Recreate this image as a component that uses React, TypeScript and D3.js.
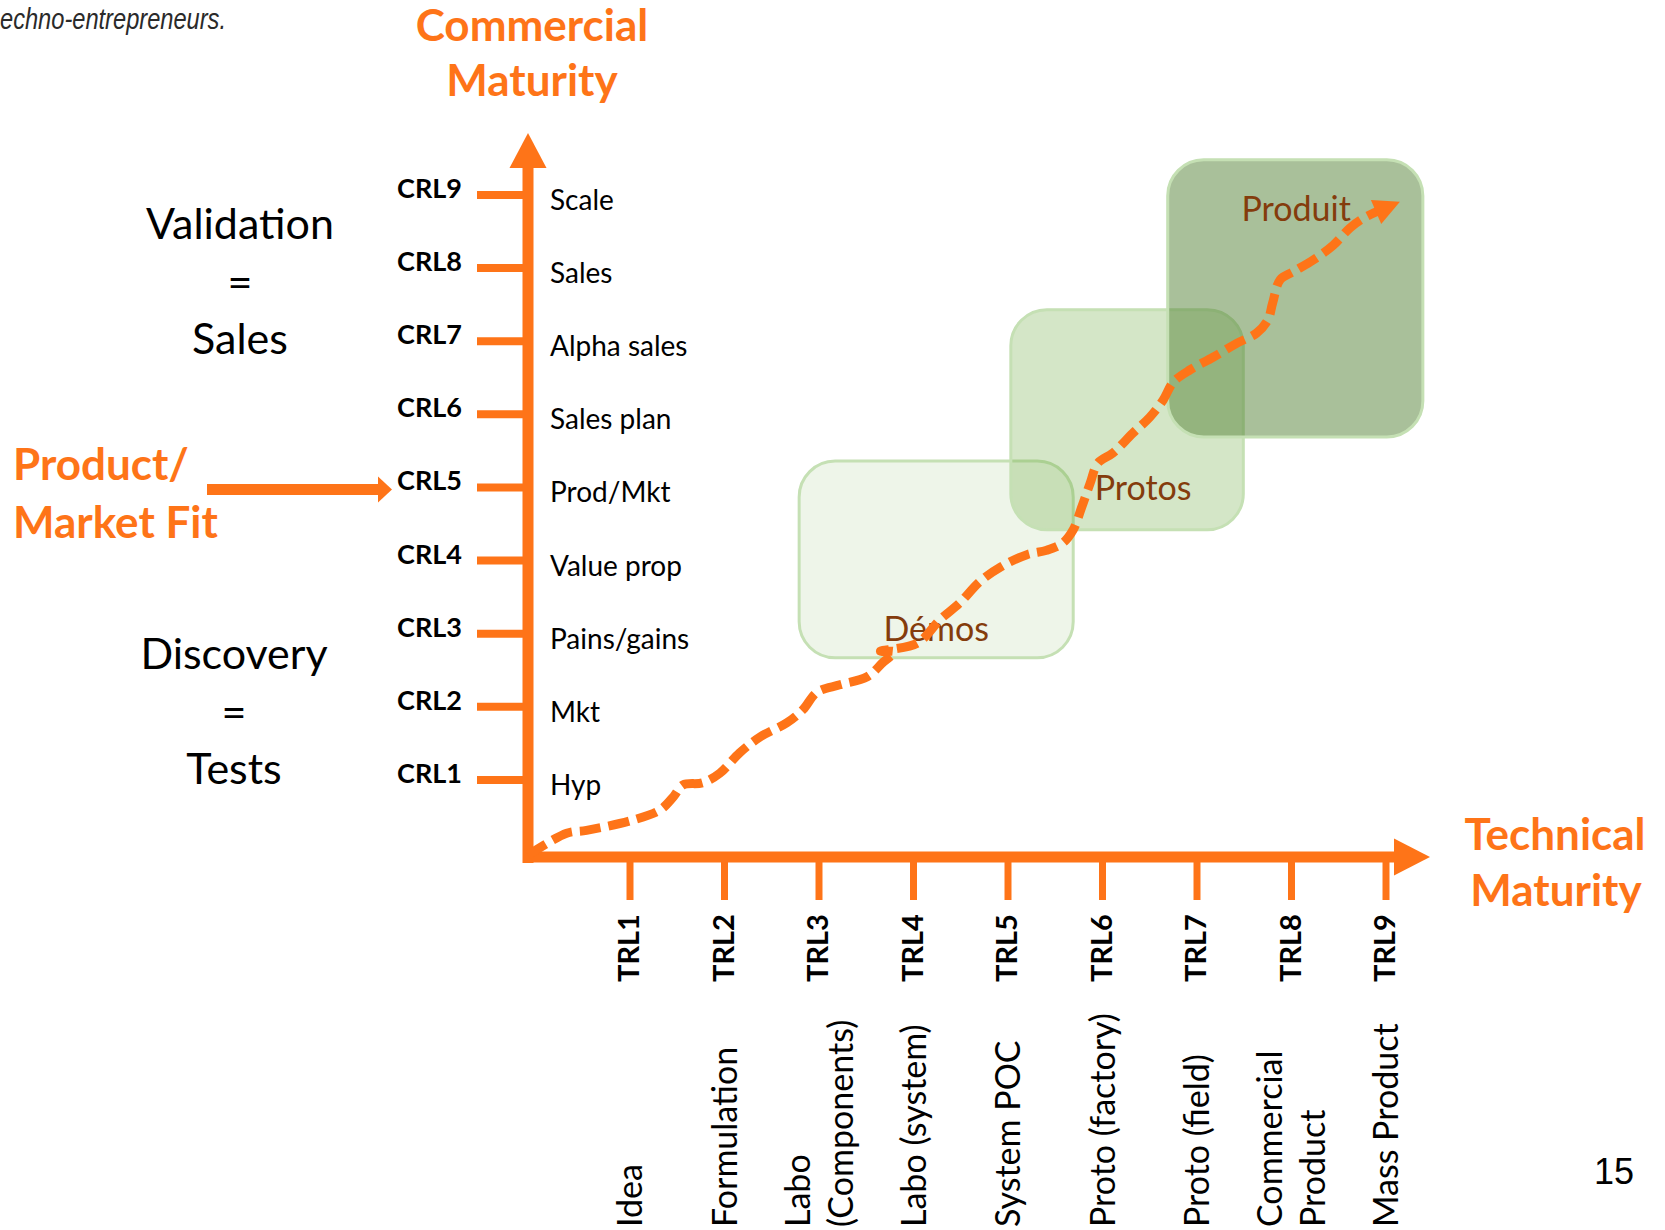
import * as d3 from "d3";

const W = 1665;
const H = 1230;
const orange = "#fe7418";
const brown = "#843c0c";

// vertical axis: commercial readiness
const crlLevels = [1, 2, 3, 4, 5, 6, 7, 8, 9];
const crlLabels = ["CRL1", "CRL2", "CRL3", "CRL4", "CRL5", "CRL6", "CRL7", "CRL8", "CRL9"];
const crlSteps = ["Hyp", "Mkt", "Pains/gains", "Value prop", "Prod/Mkt", "Sales plan", "Alpha sales", "Sales", "Scale"];

// horizontal axis: technical readiness
const trlLevels = [1, 2, 3, 4, 5, 6, 7, 8, 9];
const trlLabels = ["TRL1", "TRL2", "TRL3", "TRL4", "TRL5", "TRL6", "TRL7", "TRL8", "TRL9"];
const trlSteps = [
  ["Idea"],
  ["Formulation"],
  ["Labo", "(Components)"],
  ["Labo (system)"],
  ["System POC"],
  ["Proto (factory)"],
  ["Proto (field)"],
  ["Commercial", "Product"],
  ["Mass Product"],
];

// phase boxes, in TRL / CRL units
const phaseNames = ["Démos", "Protos", "Produit"];
const phaseTrl = [[2.79, 5.69], [5.03, 7.49], [6.69, 9.39]];
const phaseCrl = [[2.67, 5.36], [4.42, 7.43], [5.69, 9.48]];
const phaseLabelAt = [[4.24, 2.9], [6.43, 4.83], [8.05, 8.64]];
const phaseFill = ["#70ad47", "#70ad47", "#548235"];
const phaseOpacity = [0.12, 0.3, 0.5];

// the maturity trajectory (TRL, CRL)
const journey: [number, number][] = [
  [-0.08, -0.03], [0.33, 0.27], [0.54, 0.31], [1.03, 0.45], [1.32, 0.59], [1.46, 0.77],
  [1.56, 0.93], [1.77, 0.96], [1.95, 1.09], [2.16, 1.37], [2.38, 1.59], [2.66, 1.78],
  [2.83, 1.96], [2.98, 2.2], [3.22, 2.3], [3.51, 2.41], [3.68, 2.61], [3.8, 2.75],
  [3.65, 2.76], [4.04, 2.87], [4.28, 3.19], [4.49, 3.42], [4.7, 3.71], [4.92, 3.91],
  [5.2, 4.08], [5.41, 4.14], [5.58, 4.24], [5.69, 4.42], [5.78, 4.73], [5.87, 5.06],
  [5.95, 5.33], [6.11, 5.47], [6.32, 5.74], [6.5, 5.96], [6.64, 6.19], [6.75, 6.44],
  [6.93, 6.61], [7.17, 6.78], [7.42, 6.97], [7.63, 7.11], [7.75, 7.29], [7.8, 7.52],
  [7.88, 7.84], [8.02, 7.95], [8.23, 8.11], [8.44, 8.31], [8.62, 8.55], [8.76, 8.68],
  [8.92, 8.78],
];

const topLines = ["Validation", "=", "Sales"];
const bottomLines = ["Discovery", "=", "Tests"];

export default function App() {
  const x = d3.scaleLinear().domain([0, 9]).range([535.5, 1386]);
  const y = d3.scaleLinear().domain([0, 9]).range([853, 194.9]);

  const axisX = 528;
  const axisY = 857;

  const line = d3
    .line<[number, number]>()
    .x((d) => x(d[0]))
    .y((d) => y(d[1]))
    .curve(d3.curveCatmullRom.alpha(0.5));

  const pmY = y(5) + 2;

  return (
    <svg
      width={W}
      height={H}
      style={{ position: "absolute", left: 0, top: 0, background: "#fff" }}
      fontFamily="Lato, 'Open Sans', sans-serif"
    >
      <defs>
        <marker
          id="tip"
          viewBox="0 0 10 10"
          refX="1"
          refY="5"
          markerUnits="userSpaceOnUse"
          markerWidth="30"
          markerHeight="26"
          orient="auto"
        >
          <path d="M0,0 L10,5 L0,10 z" fill={orange} />
        </marker>
      </defs>

      <text
        x={0}
        y={29}
        fontFamily="'Liberation Sans', Arial, sans-serif"
        fontStyle="italic"
        fontSize={29}
        fill="#2a2a2a"
        textLength={226}
        lengthAdjust="spacingAndGlyphs"
      >
        echno-entrepreneurs.
      </text>

      {/* axis titles */}
      <g fill={orange} fontWeight="bold" fontSize={44} textAnchor="middle">
        <text x={532} y={41}>Commercial</text>
        <text x={532} y={96}>Maturity</text>
        <text x={1555} y={850}>Technical</text>
        <text x={1556} y={906}>Maturity</text>
      </g>

      {/* left side notes */}
      <g fontSize={43} textAnchor="middle" fill="#000">
        {topLines.map((t, i) => (
          <text key={t + i} x={240} y={239 + i * 57.5}>{t}</text>
        ))}
        {bottomLines.map((t, i) => (
          <text key={t + i} x={234} y={669 + i * 57.5}>{t}</text>
        ))}
      </g>
      <g fill={orange} fontWeight="bold" fontSize={44}>
        <text x={13} y={480}>Product/</text>
        <text x={13} y={538}>Market Fit</text>
      </g>
      <line x1={207} x2={380} y1={pmY} y2={pmY} stroke={orange} strokeWidth={11} />
      <path d={`M378,${pmY - 13} L392,${pmY} L378,${pmY + 13} Z`} fill={orange} />

      {/* phase boxes */}
      {phaseNames.map((n, i) => (
        <rect
          key={n}
          x={x(phaseTrl[i][0])}
          y={y(phaseCrl[i][1])}
          width={x(phaseTrl[i][1]) - x(phaseTrl[i][0])}
          height={y(phaseCrl[i][0]) - y(phaseCrl[i][1])}
          rx={36}
          fill={phaseFill[i]}
          fillOpacity={phaseOpacity[i]}
          stroke="#c5e0b4"
          strokeWidth={3}
        />
      ))}
      {phaseNames.map((n, i) => (
        <text
          key={n}
          x={x(phaseLabelAt[i][0])}
          y={y(phaseLabelAt[i][1])}
          textAnchor="middle"
          fontSize={34}
          fill={brown}
        >
          {n}
        </text>
      ))}

      {/* CRL axis */}
      {crlLevels.map((c, i) => (
        <g key={c}>
          <line x1={477} x2={axisX} y1={y(c)} y2={y(c)} stroke={orange} strokeWidth={8} />
          <text x={462} y={y(c) + 3} textAnchor="end" fontWeight="bold" fontSize={27} fill="#000">
            {crlLabels[i]}
          </text>
          <text x={550} y={y(c) + 15} fontSize={28} fill="#000">
            {crlSteps[i]}
          </text>
        </g>
      ))}

      {/* TRL axis */}
      {trlLevels.map((t, i) => (
        <g key={t}>
          <line x1={x(t)} x2={x(t)} y1={axisY} y2={900} stroke={orange} strokeWidth={7} />
          <text
            transform={`translate(${x(t) + 9},982) rotate(-90)`}
            fontWeight="bold"
            fontSize={29}
            fill="#000"
          >
            {trlLabels[i]}
          </text>
          {trlSteps[i].map((s, k) => (
            <text
              key={s}
              transform={`translate(${x(t) + (k - (trlSteps[i].length - 1) / 2) * 43 + 12},1227) rotate(-90)`}
              fontSize={34}
              fill="#000"
            >
              {s}
            </text>
          ))}
        </g>
      ))}

      {/* axes */}
      <line x1={axisX} x2={axisX} y1={axisY + 6} y2={166} stroke={orange} strokeWidth={11} />
      <path d={`M${axisX - 18.5},168 L${axisX},133 L${axisX + 18.5},168 Z`} fill={orange} />
      <line x1={axisX - 5} x2={1396} y1={axisY} y2={axisY} stroke={orange} strokeWidth={11} />
      <path d={`M1394,${axisY - 18.5} L1430,${axisY} L1394,${axisY + 18.5} Z`} fill={orange} />

      {/* trajectory */}
      <path
        d={line(journey) || ""}
        fill="none"
        stroke={orange}
        strokeWidth={9}
        strokeDasharray="21 8"
        markerEnd="url(#tip)"
      />

      <text x={1614} y={1184} textAnchor="middle" fontFamily="'Liberation Sans', Arial, sans-serif" fontSize={36} fill="#000">
        15
      </text>
    </svg>
  );
}
